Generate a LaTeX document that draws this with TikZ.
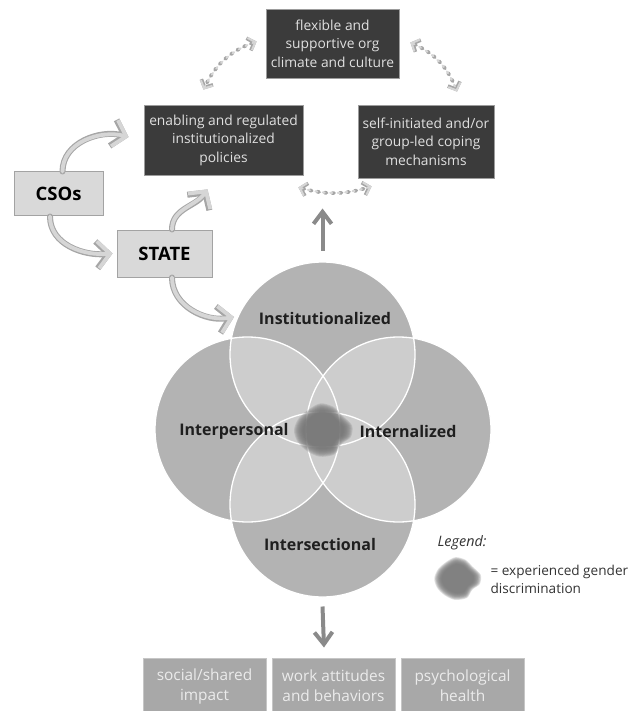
\documentclass[tikz,border=0pt]{standalone}
\usepackage{fontspec}
\setmainfont{Open Sans}
\usetikzlibrary{arrows.meta,positioning,calc}

\definecolor{boxdark}{HTML}{3B3B3B}
\definecolor{boxedge}{HTML}{9C9C9C}
\definecolor{boxtext}{HTML}{E0E0E0}
\definecolor{actorfill}{HTML}{D9D9D9}
\definecolor{actoredge}{HTML}{A3A3A3}
\definecolor{ringfill}{HTML}{B3B3B3}
\definecolor{lensfill}{HTML}{CDCDCD}
\definecolor{outfill}{HTML}{A8A8A8}
\definecolor{outedge}{HTML}{C6C6C6}
\definecolor{outtext}{HTML}{EBEBEB}
\definecolor{smudgecol}{HTML}{767676}
\definecolor{arrowdark}{HTML}{8A8A8A}
\definecolor{arrowrim}{HTML}{A6A6A6}
\definecolor{arrowbody}{HTML}{D6D6D6}

\tikzset{
  darkbox/.style={draw=boxedge, line width=0.8pt, fill=boxdark, text=boxtext, align=center,
    inner sep=0pt, font=\fontsize{13.8}{18.5}\selectfont},
  actorbox/.style={draw=actoredge, line width=1pt, fill=actorfill, inner sep=0pt,
    font=\fontsize{18.5}{22}\selectfont\bfseries},
  outbox/.style={draw=outedge, line width=1pt, fill=outfill, text=outtext, align=center,
    inner sep=0pt, minimum width=123pt, minimum height=56pt,
    font=\fontsize{15.4}{20}\selectfont},
  ringlabel/.style={font=\fontsize{16}{18}\selectfont\bfseries, text=black!88},
  bigflow/.style={preaction={draw=arrowrim, line width=6pt, line cap=round,
      -{Straight Barb[length=12pt,width=27pt]}},
    draw=arrowbody, line width=3.8pt, line cap=round, -{Straight Barb[length=12pt,width=27pt]}},
  dashflow/.style={preaction={draw=arrowrim, line width=3.6pt, line cap=round,
      dash pattern=on 2pt off 5.5pt,
      {Straight Barb[length=6pt,width=13pt]}-{Straight Barb[length=6pt,width=13pt]}},
    draw=arrowbody, line width=2pt, line cap=round, dash pattern=on 2pt off 5.5pt,
    {Straight Barb[length=6pt,width=13pt]}-{Straight Barb[length=6pt,width=13pt]}},
  mainflow/.style={draw=arrowdark, line width=4pt, -{Straight Barb[length=12pt,width=18pt]}},
}

% blurred spot, #1 = centre, #2 = scale
\newcommand{\smudge}[2]{%
  \begin{scope}[shift={(#1)}]
    \foreach \s in {1.16,1.12,1.08,1.04,1.0,0.96,0.92,0.88,0.84,0.8} {
      \fill[smudgecol, opacity=0.22, scale=#2*\s] plot[smooth cycle] coordinates
        {(-25,0) (-21,-10) (-12,-18) (-2,-23) (9,-20) (16,-13) (25,-4)
         (24,6) (16,12) (10,21) (-3,23) (-14,18) (-22,10)};
    }
  \end{scope}}

\begin{document}
\begin{tikzpicture}[x=1pt,y=-1pt]
  \useasboundingbox (0,0) rectangle (630,711);

  % coping strategies
  \node[darkbox, minimum width=133pt, minimum height=69pt] (climate) at (332.5,43.5)
    {flexible and\\supportive org\\climate and culture};
  \node[darkbox, minimum width=159pt, minimum height=70pt] (enabling) at (223.5,140)
    {enabling and regulated\\institutionalized\\policies};
  \node[darkbox, minimum width=136pt, minimum height=73pt] (coping) at (426,141.5)
    {self-initiated and/or\\group-led coping\\mechanisms};

  \draw[dashflow] ([xshift=-9pt,yshift=2pt]climate.west) to[bend right=22] ([xshift=-20pt,yshift=15pt]enabling.north);
  \draw[dashflow] ([xshift=11pt,yshift=1pt]climate.east) to[bend left=22] ([xshift=31pt,yshift=13pt]coping.north);
  \draw[dashflow] ([xshift=-5pt,yshift=-12pt]enabling.south east) to[bend right=16] ([xshift=14pt,yshift=-8pt]coping.south west);

  % actors
  \node[actorbox, minimum width=89pt, minimum height=44pt] (csos) at (58.5,194) {CSOs};
  \node[actorbox, minimum width=95pt, minimum height=47pt] (state) at (164.5,253.5) {STATE};

  % four rings
  \coordinate (inst) at (322.5,354.5);
  \coordinate (ipers) at (247.5,429.5);
  \coordinate (iname) at (398.5,429.5);
  \coordinate (isect) at (322.5,504.5);
  \coordinate (stateend) at (234,317);

  \fill[ringfill] (inst) circle (92.5) (ipers) circle (92.5) (iname) circle (92.5) (isect) circle (92.5);
  \foreach \a/\b in {inst/ipers,inst/iname,inst/isect,ipers/iname,ipers/isect,iname/isect} {
    \begin{scope}
      \clip (\a) circle (92.5);
      \fill[lensfill] (\b) circle (92.5);
    \end{scope}
  }
  \draw[white, line width=1.3pt] (inst) circle (92.5) (ipers) circle (92.5) (iname) circle (92.5) (isect) circle (92.5);

  \smudge{323,430}{1}

  \node[ringlabel] (instlabel) at (325,318) {Institutionalized};
  \node[ringlabel] (iperslabel) at (234,431) {Interpersonal};
  \node[ringlabel] (inamelabel) at (408,431) {Internalized};
  \node[ringlabel] (isectlabel) at (320,544) {Intersectional};

  \draw[bigflow] ([xshift=4pt]csos.north) to[out=90,in=165] ([xshift=-15pt,yshift=3pt]enabling.west);
  \draw[bigflow] ([xshift=-8.5pt]csos.south) to[out=-90,in=185] ([xshift=-4pt]state.west);
  \draw[bigflow] ([xshift=7.5pt]state.north) to[out=90,in=235] ([xshift=-16pt,yshift=-14pt]enabling.south);
  \draw[bigflow] ([xshift=7.5pt]state.south) to[out=-90,in=190] (stateend);

  \draw[mainflow] ([yshift=104pt]inst) -- ([yshift=146pt]inst);

  % outcomes
  \node[outbox] (social) at (204.5,686) {social/shared\\impact};
  \node[outbox, right=5pt of social] (work) {work attitudes\\and behaviors};
  \node[outbox, right=5pt of work] (health) {psychological\\health};

  \draw[mainflow] ([yshift=-102pt]isect) -- ([xshift=-9.5pt,yshift=10pt]work.north);

  % legend
  \node[anchor=west, font=\fontsize{14.4}{17}\selectfont\itshape, text=black!80] (legend) at (434,543) {Legend:};
  \smudge{457.5,578.5}{0.8}
  \node[anchor=west, align=left, font=\fontsize{13.6}{18}\selectfont, text=black!80] (legendtext) at (487,579)
    {= experienced gender\\discrimination};
\end{tikzpicture}
\end{document}
